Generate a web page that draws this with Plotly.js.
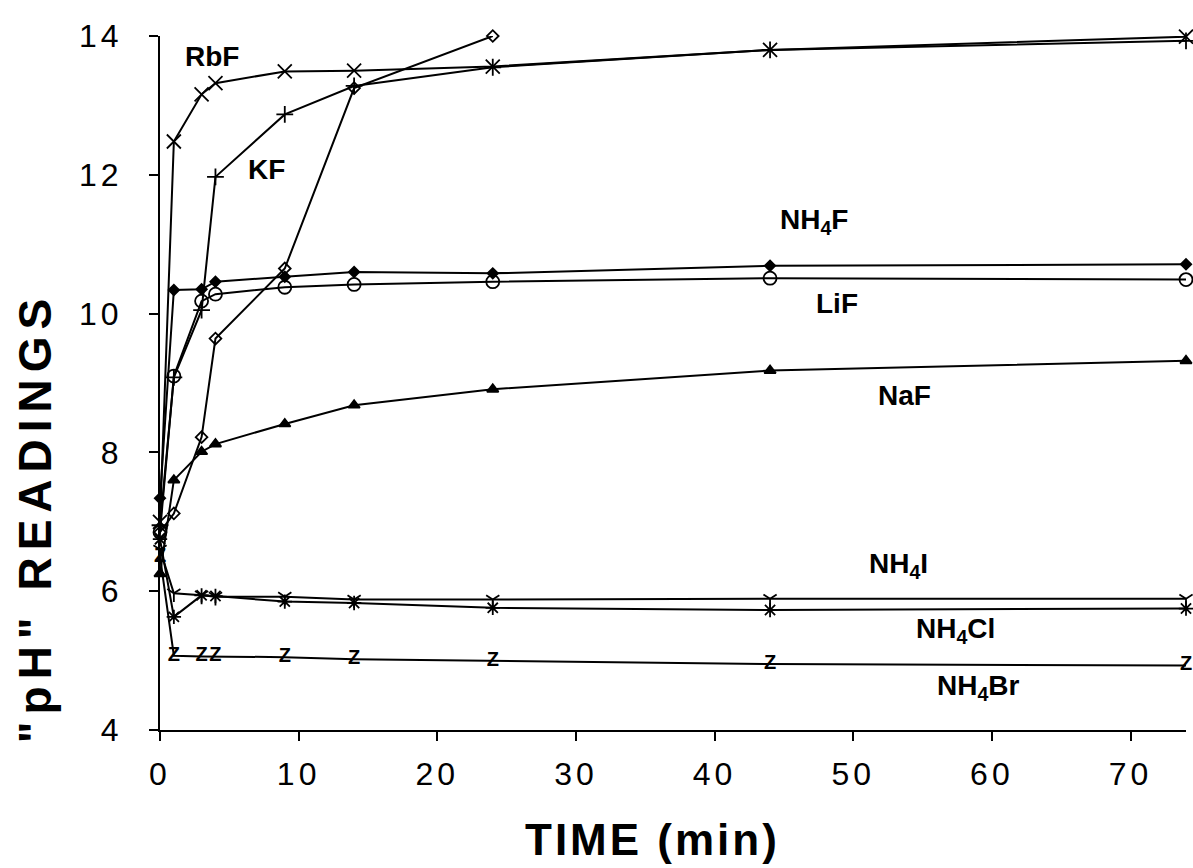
<!DOCTYPE html>
<html>
<head>
<meta charset="utf-8">
<script src="https://cdn.plot.ly/plotly-3.0.1.min.js"></script>
<style>
html,body{margin:0;padding:0;background:#fff;}
#chart{width:1193px;height:868px;}
.xtick text,.ytick text{letter-spacing:4px;}
g.annotation[data-index="9"] text{letter-spacing:7px;}
g.annotation[data-index="10"] text{letter-spacing:3px;}
</style>
</head>
<body>
<div id="chart"></div>
<script>
// time points (min)
const timeAll = [0, 1, 3, 4, 9, 14, 24, 44, 74];
const timeCsF = [0, 1, 3, 4, 9, 14, 24];

// "pH" readings per salt
const RbF   = [7.00, 12.48, 13.16, 13.32, 13.49, 13.50, 13.56, 13.80, 13.99];
const KF    = [6.95, 9.08, 10.05, 11.97, 12.87, 13.28, 13.55, 13.80, 13.93];
const CsF   = [6.85, 7.12, 8.22, 9.64, 10.65, 13.25, 14.00];
const LiF   = [6.85, 9.10, 10.18, 10.28, 10.38, 10.42, 10.46, 10.51, 10.49];
const NH4F  = [7.34, 10.34, 10.35, 10.46, 10.53, 10.60, 10.58, 10.69, 10.71];
const NaF   = [6.25, 7.60, 8.01, 8.12, 8.41, 8.68, 8.91, 9.18, 9.32];
const NH4I  = [6.60, 5.97, 5.94, 5.92, 5.92, 5.88, 5.88, 5.89, 5.89];
const NH4Cl = [6.75, 5.63, 5.94, 5.93, 5.85, 5.83, 5.76, 5.73, 5.75];
const NH4Br = [6.50, 5.07, 5.06, 5.06, 5.05, 5.02, 5.00, 4.95, 4.93];

// axis ticks
const xTicks = [0, 10, 20, 30, 40, 50, 60, 70];
const yTicks = [4, 6, 8, 10, 12, 14];

// series labels
const labelText = ["RbF", "CsF", "KF", "NH<sub>4</sub>F", "LiF", "NaF", "NH<sub>4</sub>I", "NH<sub>4</sub>Cl", "NH<sub>4</sub>Br"];
const labelX    = [3.76, 26.9, 7.66, 47.2, 48.8, 53.7, 53.25, 57.4, 59.0];
const labelY    = [13.70, 14.23, 12.07, 11.32, 10.15, 8.82, 6.37, 5.43, 4.61];

const FONT = '"Liberation Sans", Arial, Helvetica, sans-serif';
const LW = 2;

function series(x, y, symbol, size, extra) {
  return Object.assign({
    type: 'scatter', mode: 'lines+markers', x: x, y: y,
    line: {color: '#000', width: LW},
    marker: {symbol: symbol, size: size, color: '#000', line: {color: '#000', width: 1.8}},
    cliponaxis: false, showlegend: false, hoverinfo: 'x+y'
  }, extra || {});
}

const traces = [
  series(timeAll, RbF, 'x-thin-open', 14),
  series(timeAll, KF, 'cross-thin-open', 12),
  series(timeCsF, CsF, 'diamond-open', 9),
  series(timeAll, LiF, 'circle-open', 13),
  series(timeAll, NH4F, 'diamond', 8),
  series(timeAll, NaF, 'triangle-up', 10),
  series(timeAll, NH4I, 'y-down-open', 11),
  series(timeAll, NH4Cl, 'asterisk-open', 12),
  {
    type: 'scatter', mode: 'lines+text', x: timeAll, y: NH4Br,
    text: NH4Br.map(() => '<b>Z</b>'), textposition: 'middle center',
    textfont: {family: FONT, size: 20, color: '#000'},
    line: {color: '#000', width: LW}, cliponaxis: false, showlegend: false
  }
];

const annotations = labelText.map((t, i) => ({
  x: labelX[i], y: labelY[i], xref: 'x', yref: 'y', text: '<b>' + t + '</b>',
  showarrow: false, xanchor: 'center', yanchor: 'middle',
  font: {family: FONT, size: 28, color: '#000'}
}));
annotations.push({
  xref: 'paper', yref: 'paper', x: -0.122, y: 0.307, textangle: -90,
  text: '<b>"pH" READINGS</b>', showarrow: false, xanchor: 'center', yanchor: 'middle',
  font: {family: FONT, size: 46, color: '#000'}
});
annotations.push({
  xref: 'paper', yref: 'paper', x: 0.48, y: -0.158,
  text: '<b>TIME (min)</b>', showarrow: false, xanchor: 'center', yanchor: 'middle',
  font: {family: FONT, size: 44, color: '#000'}
});

const layout = {
  width: 1193, height: 868,
  margin: {l: 160, r: 7, t: 36, b: 138},
  paper_bgcolor: '#fff', plot_bgcolor: '#fff',
  font: {family: FONT, color: '#000'},
  xaxis: {
    range: [0, 74], tickvals: xTicks, ticktext: xTicks.map(String),
    showgrid: false, zeroline: false, showline: true, linecolor: '#000', linewidth: 2,
    ticks: 'outside', ticklen: 9, tickwidth: 2, tickcolor: '#000',
    tickfont: {family: FONT, size: 32, color: '#000'}, ticklabelstandoff: 6
  },
  yaxis: {
    range: [4, 14], tickvals: yTicks, ticktext: yTicks.map(String),
    showgrid: false, zeroline: false, showline: true, linecolor: '#000', linewidth: 2,
    ticks: 'outside', ticklen: 9, tickwidth: 2, tickcolor: '#000',
    tickfont: {family: FONT, size: 32, color: '#000'}, ticklabelstandoff: 20
  },
  annotations: annotations
};

Plotly.newPlot('chart', traces, layout, {displayModeBar: false, staticPlot: true});
</script>
</body>
</html>
